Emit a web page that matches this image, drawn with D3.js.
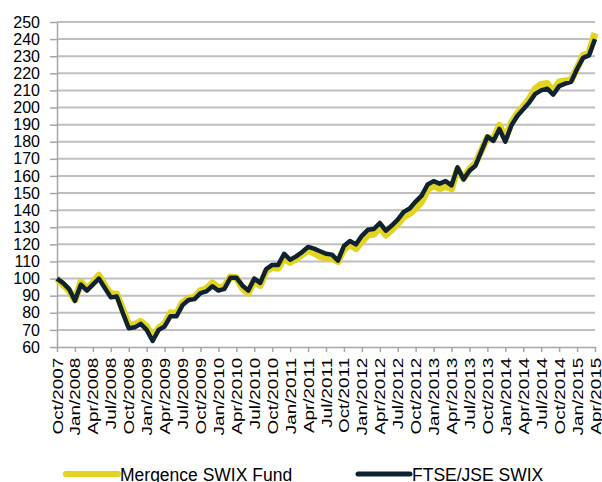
<!DOCTYPE html>
<html>
<head>
<meta charset="utf-8">
<script src="https://cdn.jsdelivr.net/npm/d3@7"></script>
<style>
  body { margin: 0; background: #fff; }
  svg { display: block; font-family: "Liberation Sans", Arial, sans-serif; }
</style>
</head>
<body>
<svg id="chart" width="602" height="482"></svg>
<script>
// monthly index values, Oct/2007 .. Apr/2015
var fundValues = [
  100, 96.5, 93, 87.5, 98, 94, 97.5, 102, 96, 91,
  91, 82, 73, 73, 75, 72, 66, 71, 73.5, 80,
  79.5, 86, 88.5, 89, 93, 94, 97.5, 94.5, 95.5, 101,
  100.5, 94.5, 91.5, 99, 96, 104.5, 106.5, 106, 112, 109.5,
  111.5, 114, 116.5, 115, 113, 112, 112, 110, 117, 120,
  117.5, 121.5, 125.5, 126, 130, 125.5, 128.5, 132, 136, 138,
  141, 145, 152, 154.5, 152.5, 154, 152.5, 164, 158.5, 164,
  167.5, 175, 182.5, 181.5, 189.5, 182, 191, 196.5, 200.5, 205,
  211, 213.5, 214, 209.5, 215, 215.5, 216, 223, 230.5, 232,
  243.5
];
var indexValues = [
  100, 97.5, 94, 87, 96.5, 93, 96.5, 100, 94.5, 89,
  89.5, 80, 71, 71.5, 73.5, 70, 63.5, 70, 72, 78,
  78, 84.5, 87.5, 88, 91.5, 92.5, 95.5, 93, 94, 100.5,
  100.5, 96, 93, 100, 97.5, 105.5, 108, 108, 114.5, 111,
  113, 115.5, 118.5, 117.5, 116, 114.5, 114, 110.5, 119, 122,
  120, 125, 128.5, 129, 132.5, 128, 131, 134.5, 139, 141,
  145, 148.5, 155, 157, 155.5, 157, 154.5, 165, 158, 163,
  166, 174.5, 183, 180.5, 187.5, 180, 189.5, 195, 199, 203,
  208, 210, 211, 207.5, 212.5, 214, 215, 222.5, 229, 230.5,
  240
];
var tickLabels = [
  "Oct/2007", "Jan/2008", "Apr/2008", "Jul/2008", "Oct/2008", "Jan/2009", "Apr/2009", "Jul/2009",
  "Oct/2009", "Jan/2010", "Apr/2010", "Jul/2010", "Oct/2010", "Jan/2011", "Apr/2011", "Jul/2011",
  "Oct/2011", "Jan/2012", "Apr/2012", "Jul/2012", "Oct/2012", "Jan/2013", "Apr/2013", "Jul/2013",
  "Oct/2013", "Jan/2014", "Apr/2014", "Jul/2014", "Oct/2014", "Jan/2015", "Apr/2015"
];
var seriesNames = ["Mergence SWIX Fund", "FTSE/JSE SWIX"];
var yTicks = d3.range(60, 251, 10);

var colour = d3.scaleOrdinal().domain(seriesNames).range(["#e3d41f", "#0f2230"]);
var widths = {"Mergence SWIX Fund": 7, "FTSE/JSE SWIX": 4.5};

var plot = {left: 57, right: 595, top: 22, bottom: 347};

var x = d3.scaleLinear().domain([0, fundValues.length - 1]).range([plot.left, plot.right]);
var y = d3.scaleLinear().domain([60, 250]).range([plot.bottom, plot.top]);

var svg = d3.select("#chart");

// gridlines
svg.append("g")
  .selectAll("line")
  .data(yTicks.slice(1))
  .enter().append("line")
  .attr("x1", plot.left)
  .attr("x2", plot.right)
  .attr("y1", function(d) { return y(d); })
  .attr("y2", function(d) { return y(d); })
  .style("stroke", "#bfbfbf")
  .style("stroke-width", 2);

// y axis
var yAxis = svg.append("g")
  .attr("transform", "translate(" + plot.left + ",0)")
  .call(d3.axisLeft(y).tickValues(yTicks).tickSize(7).tickSizeOuter(0).tickPadding(10));
yAxis.selectAll("text").style("font-size", "16px").style("fill", "#000");

// x axis
var xAxis = svg.append("g")
  .attr("transform", "translate(0," + plot.bottom + ")")
  .call(d3.axisBottom(x)
    .tickValues(d3.range(0, fundValues.length, 3))
    .tickFormat(function(d) { return tickLabels[d / 3]; })
    .tickSize(5)
    .tickSizeOuter(0));
xAxis.selectAll("text")
  .attr("x", -8)
  .attr("y", 0)
  .attr("dy", "0.36em")
  .attr("transform", "rotate(-90) scale(1.35,1)")
  .style("text-anchor", "end")
  .style("font-size", "14px")
  .style("fill", "#000");

svg.selectAll(".domain, .tick line").style("stroke", "#a6a6a6").style("stroke-width", 1.5);

// lines
var line = d3.line()
  .x(function(d, i) { return x(i); })
  .y(function(d) { return y(d); });

var series = [
  {name: seriesNames[0], values: fundValues},
  {name: seriesNames[1], values: indexValues}
];

svg.selectAll(".series")
  .data(series)
  .enter().append("path")
  .attr("class", "series")
  .attr("d", function(d) { return line(d.values); })
  .style("fill", "none")
  .style("stroke", function(d) { return colour(d.name); })
  .style("stroke-width", function(d) { return widths[d.name]; })
  .style("stroke-linejoin", "round");

// legend
var legend = svg.selectAll(".legend")
  .data(seriesNames)
  .enter().append("g")
  .attr("class", "legend")
  .attr("transform", function(d, i) { return "translate(" + (66 + i * 292) + ",474)"; });

legend.append("line")
  .attr("x1", 0)
  .attr("x2", 52)
  .style("stroke", colour)
  .style("stroke-width", function(d) { return d === seriesNames[0] ? 6 : 5; })
  .style("stroke-linecap", "round");

legend.append("text")
  .attr("x", 54)
  .attr("y", 7)
  .style("font-size", "17.5px")
  .style("fill", "#000")
  .text(function(d) { return d; });
</script>
</body>
</html>
